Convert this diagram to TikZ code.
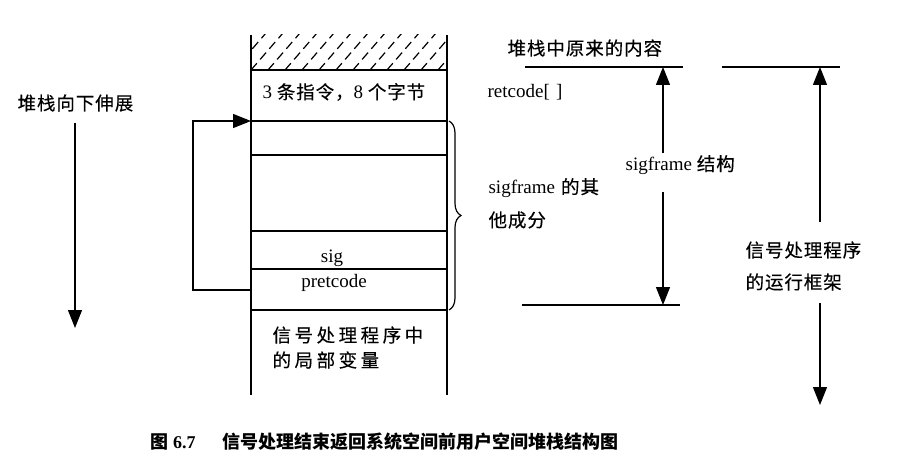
\documentclass[tikz,border=0pt]{standalone}
\usepackage{fontspec}
\setmainfont{Liberation Serif}
\newfontfamily\cjk[LetterSpace=5,FakeBold=0.3]{Noto Sans CJK SC}
\newfontfamily\cjkw[LetterSpace=19,FakeBold=0.3]{Noto Sans CJK SC}
\newfontfamily\cjkcap{Noto Sans CJK SC}
\newcommand\zh[1]{{\fontsize{18.5}{21}\cjk #1}}
\newcommand\zhw[1]{{\fontsize{18.5}{21}\cjkw #1}}
\usetikzlibrary{arrows.meta,decorations.pathreplacing}
\begin{document}
\begin{tikzpicture}[x=1pt,y=-1pt,line width=1.2pt,
  tipd/.style={-{Triangle[length=18pt,width=14pt]}},
  txt/.style={font=\fontsize{19}{22}\selectfont, inner sep=0pt, anchor=west},
  ctxt/.style={font=\fontsize{19}{22}\selectfont, inner sep=0pt},
  hatch/.style={line width=1.2pt, dash pattern=on 9pt off 5pt},
  captxt/.style={font=\fontsize{18}{21}\selectfont\bfseries, inner sep=0pt, anchor=west}
]
\useasboundingbox (0,0) rectangle (899,476);

% stack column
\coordinate (cTL) at (251,35);
\coordinate (cTR) at (447,35);
\coordinate (cBL) at (251,395);
\coordinate (cBR) at (447,395);
\draw (cTL) -- (cBL);
\draw (cTR) -- (cBR);
\foreach \yy in {70,121,155,231,269,310} \draw (251,\yy) -- (447,\yy);
\begin{scope}
  \clip (251,35) rectangle (447,70);
  \foreach \i in {-1,...,12} \draw[hatch] (251+\i*17,70) -- ++(32,-37);
\end{scope}

% texts in column
\node[txt] (instr) at (262,92) {3 \zh{条指令，}8 \zh{个字节}};
\node[ctxt] (sig) at (332,258) {sig};
\node[ctxt] (pret) at (334,283) {pretcode};
\node[txt] (loc1) at (272,335) {\zhw{信号处理程序中}};
\node[txt] (loc2) at (272,360) {\zhw{的局部变量}};

% loop arrow
\coordinate (lpA) at (251,290);
\coordinate (lpB) at (193,290);
\coordinate (lpC) at (193,121);
\coordinate (lpD) at (251,121);
\draw[tipd] (lpA) -- (lpB) -- (lpC) -- (lpD);

% brace
\coordinate (brT) at (449,121);
\coordinate (brB) at (449,310);
\draw[decorate, decoration={brace, amplitude=12pt}] (brT) -- (brB);

% left
\node[txt] (grow) at (17,103) {\zh{堆栈向下伸展}};
\coordinate (gA) at (75,123);
\coordinate (gB) at (75,328);
\draw[tipd] (gA) -- (gB);

% right side
\node[txt] (orig) at (507,48) {\zh{堆栈中原来的内容}};
\node[txt] (ret) at (487,92) {retcode[\,\,]};
\node[txt] (oth1) at (488,188) {sigframe\hspace{6pt}\zh{的其}};
\node[txt] (oth2) at (488,220) {\zh{他成分}};
\node[txt] (sfs) at (625,165) {sigframe \zh{结构}};
\node[txt] (fr1) at (745,250) {\zh{信号处理程序}};
\node[txt] (fr2) at (745,282) {\zh{的运行框架}};

\coordinate (l1a) at (525,67); \coordinate (l1b) at (683,67);
\coordinate (l2a) at (722,67); \coordinate (l2b) at (840,67);
\coordinate (l3a) at (522,305); \coordinate (l3b) at (680,305);
\draw (l1a) -- (l1b);
\draw (l2a) -- (l2b);
\draw (l3a) -- (l3b);

\coordinate (s1) at (663,153); \coordinate (s1t) at (663,67);
\coordinate (s2) at (663,192); \coordinate (s2t) at (663,305);
\draw[tipd] (s1) -- (s1t);
\draw[tipd] (s2) -- (s2t);
\coordinate (f1) at (820,222); \coordinate (f1t) at (820,67);
\coordinate (f2) at (820,303); \coordinate (f2t) at (820,405);
\draw[tipd] (f1) -- (f1t);
\draw[tipd] (f2) -- (f2t);

% caption
\node[captxt] (capA) at (150,442) {{\cjkcap 图} 6.7};
\node[captxt] (capB) at (222,442) {{\cjkcap 信号处理结束返回系统空间前用户空间堆栈结构图}};
\end{tikzpicture}
\end{document}
